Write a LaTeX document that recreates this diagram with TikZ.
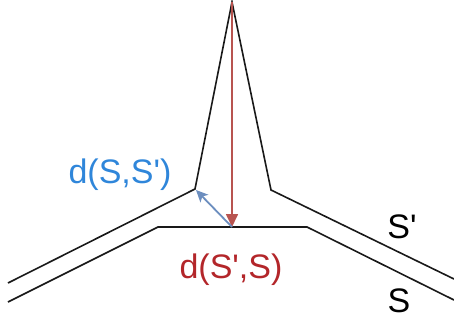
\documentclass[tikz,border=0pt]{standalone}
\usepackage{fontspec}
\setmainfont{Liberation Sans}
\usetikzlibrary{arrows.meta}
\definecolor{curvered}{HTML}{B85450}
\definecolor{curveblue}{HTML}{6C8EBF}
\definecolor{textred}{HTML}{B3262A}
\definecolor{textblue}{HTML}{2F86DA}
\newcommand{\pr}{\textquotesingle}
\tikzset{
  surface/.style={line width=1.6pt,black!90,line join=miter},
  lbl/.style={font=\fontsize{34}{40}\selectfont,inner sep=0pt,anchor=base}
}
\begin{document}
\begin{tikzpicture}[x=1pt,y=-1pt]
\useasboundingbox (0,0) rectangle (454,320);
% surface S' with the spike
\draw[surface] (8,283) -- (195,189) -- (232,2) -- (271,190) -- (454,279);
% surface S
\draw[surface] (8,302) -- (158,227) -- (307,227) -- (454,300);
% points for the distances
\coordinate (tip) at (232,2);
\coordinate (foot) at (232,227);
\coordinate (kink) at (196,190);
% distances
\draw[curvered,line width=1.7pt,-{Triangle[length=13pt,width=12pt]}] (tip) -- (foot);
\draw[curveblue,line width=1.8pt,-{Stealth[length=12pt,width=11pt,inset=3pt]}] (foot) -- (kink);
% labels
\node[lbl,textblue] (dss) at (120,183) {d(S,S\pr)};
\node[lbl,textred] (dsps) at (231,278) {d(S\pr,S)};
\node[lbl] (sp) at (402,238) {S\pr};
\node[lbl] (s) at (399,312) {S};
\end{tikzpicture}
\end{document}
